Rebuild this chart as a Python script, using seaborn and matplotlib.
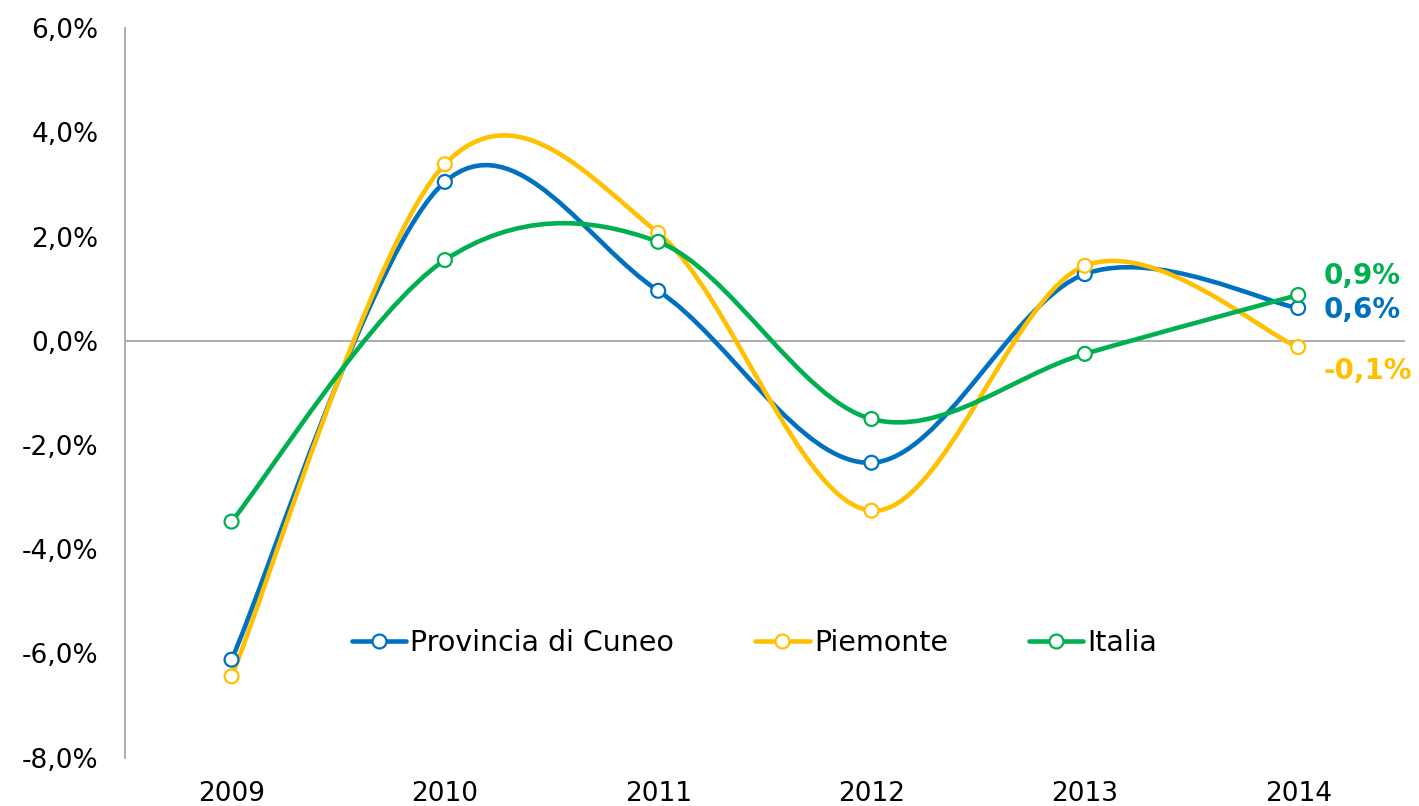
import matplotlib.pyplot as plt
import numpy as np
import seaborn as sns
import pandas as pd
from matplotlib.path import Path
from matplotlib.patches import PathPatch
from matplotlib.lines import Line2D
from matplotlib.ticker import FuncFormatter

years = ['2009', '2010', '2011', '2012', '2013', '2014']
series_names = ['Provincia di Cuneo', 'Piemonte', 'Italia']
cuneo = [-6.12, 3.05, 0.96, -2.34, 1.28, 0.63]
piemonte = [-6.44, 3.39, 2.07, -3.26, 1.44, -0.12]
italia = [-3.47, 1.55, 1.90, -1.50, -0.25, 0.88]
end_labels = ['0,6%', '-0,1%', '0,9%']
colors = ['#0070C0', '#FFC000', '#00B050']


def smooth_path(xs, ys):
    # Excel-like smoothed line: cubic Bezier through the points
    pts = np.column_stack([xs, ys]).astype(float)
    n = len(pts)
    verts = [pts[0]]
    codes = [Path.MOVETO]
    for i in range(n - 1):
        p0 = pts[max(i - 1, 0)]
        p1 = pts[i]
        p2 = pts[i + 1]
        p3 = pts[min(i + 2, n - 1)]
        c1 = p1 + (p2 - p0) / 6
        c2 = p2 - (p3 - p1) / 6
        verts += [c1, c2, p2]
        codes += [Path.CURVE4] * 3
    return Path(verts, codes)


def main():
    df = pd.DataFrame({'year': years * 3,
                       'value': cuneo + piemonte + italia,
                       'series': np.repeat(series_names, len(years))})
    df['x'] = df['year'].map({y: i for i, y in enumerate(years)})

    sns.set_style('white')
    plt.rcParams['font.family'] = ['DejaVu Sans']
    fig, ax = plt.subplots(figsize=(14.19, 8.06), dpi=100)
    fig.subplots_adjust(left=0.088, right=0.99, top=0.965, bottom=0.06)

    ax.axhline(0, color='#A6A6A6', lw=1.3, zorder=1)

    for name, col in zip(series_names, colors):
        d = df[df['series'] == name]
        patch = PathPatch(smooth_path(d['x'].values, d['value'].values),
                          facecolor='none', edgecolor=col, lw=3.3,
                          capstyle='round', joinstyle='round', zorder=2)
        ax.add_patch(patch)

    sns.scatterplot(data=df, x='x', y='value', hue='series', palette=colors,
                    hue_order=series_names, ax=ax, s=100, facecolor='white',
                    linewidth=1.6, legend=False, zorder=3)
    # scatterplot colours the face by hue; restyle so edges carry the colour
    coll = ax.collections[-1]
    ec = [colors[series_names.index(s)] for s in df['series']]
    coll.set_edgecolors(ec)
    coll.set_facecolors('white')

    # end labels
    last = len(years) - 1
    offsets = {'Provincia di Cuneo': -0.04, 'Piemonte': -0.46, 'Italia': 0.37}
    for name, col, lab in zip(series_names, colors, end_labels):
        v = df[(df['series'] == name) & (df['x'] == last)]['value'].iloc[0]
        ax.text(last + 0.118, v + offsets[name], lab, color=col, fontsize=20,
                fontweight='bold', va='center', ha='left')

    ax.set_xlim(-0.5, len(years) - 0.5)
    ax.set_ylim(-8, 6)
    ax.set_yticks(np.arange(-8, 7, 2))
    ax.yaxis.set_major_formatter(FuncFormatter(lambda v, p: f'{v:.1f}%'.replace('.', ',')))
    ax.set_xticks(range(len(years)))
    ax.set_xticklabels(years)
    ax.tick_params(axis='both', labelsize=19, colors='black', length=0)
    ax.tick_params(axis='y', pad=19)
    ax.tick_params(axis='x', pad=17)
    ax.set_xlabel('')
    ax.set_ylabel('')

    for s in ['top', 'right', 'bottom']:
        ax.spines[s].set_visible(False)
    ax.spines['left'].set_color('#A6A6A6')
    ax.spines['left'].set_linewidth(1.3)

    handles = [Line2D([0], [0], color=c, lw=3.3, marker='o', markersize=10,
                      markerfacecolor='white', markeredgecolor=c, markeredgewidth=1.6)
               for c in colors]
    ax.legend(handles, series_names, loc='center', bbox_to_anchor=(0.492, 0.157),
              ncol=3, frameon=False, fontsize=20.5, handlelength=1.9,
              handletextpad=0.15, columnspacing=2.85, labelcolor='black')

    plt.savefig('out.png', dpi=100)


if __name__ == '__main__':
    main()
